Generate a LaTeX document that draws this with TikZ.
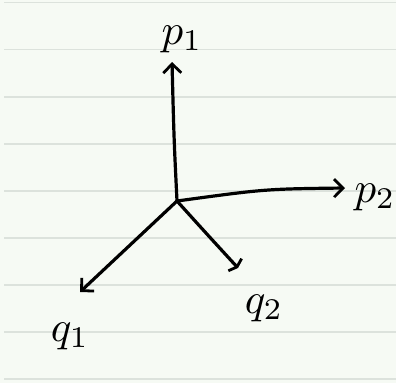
\documentclass[tikz,border=0pt]{standalone}
\usetikzlibrary{arrows.meta}
\definecolor{paper}{RGB}{246,250,244}
\definecolor{rule}{RGB}{220,226,220}
\newcommand{\hw}[1]{\scalebox{4.3}{$#1$}}
\begin{document}
\begin{tikzpicture}[x=1pt, y=-1pt,
    axis/.style={-{Straight Barb[length=9pt, width=18pt, line width=2.8pt]}, line width=3.2pt, line cap=round},
    teeaxis/.style={-{Straight Barb[length=3pt, width=18pt, line width=2.8pt]}, line width=3.2pt, line cap=round},
    lbl/.style={inner sep=0pt}
]

% paper with ruled lines
\fill[paper] (0,0) rectangle (396,383);
\useasboundingbox (0,0) rectangle (396,383);
\foreach \k in {0,...,8}
  \draw[rule, line width=1.4pt] (4,{2.7+47.05*\k}) -- (396,{2.7+47.05*\k});

\coordinate (O)  at (177,201);
\coordinate (P1) at (172,62);
\coordinate (P2) at (345,188);
\coordinate (Q1) at (80,292);
\coordinate (Q2) at (238,268);

\node[lbl] (p1) at (182,39)  {\hw{p_1}};
\node[lbl] (p2) at (375,197) {\hw{p_2}};
\node[lbl] (q1) at (70,336)  {\hw{q_1}};
\node[lbl] (q2) at (264,308) {\hw{q_2}};

\draw[axis] (O) .. controls (174,140) .. (P1);
\draw[axis] (O) .. controls (265,189) .. (P2);
\draw[axis] (O) -- (Q1);
\draw[teeaxis] (O) .. controls (205,232) .. (Q2);

\end{tikzpicture}
\end{document}
